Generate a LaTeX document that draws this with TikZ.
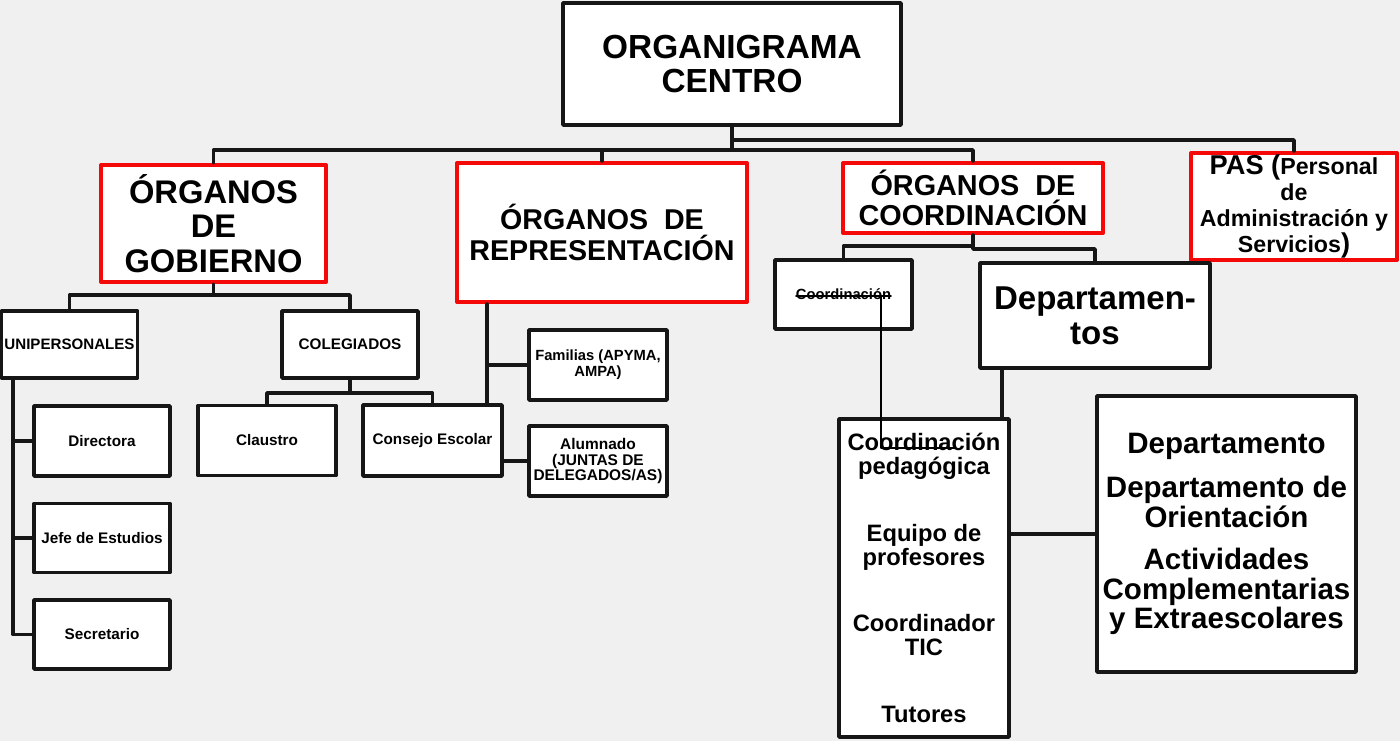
\documentclass[tikz,border=0pt]{standalone}
\usepackage{fontspec}
\setmainfont{Liberation Sans}
\definecolor{bggray}{RGB}{240,240,240}
\definecolor{orgred}{RGB}{245,8,8}
\definecolor{linedark}{RGB}{22,22,22}
\newcommand\fsz[2]{\fontsize{#1}{#2}\selectfont\bfseries}

\begin{document}
\begin{tikzpicture}[x=0.02cm,y=-0.02cm,line cap=round,line join=round,
  box/.style={draw=linedark,line width=2pt,fill=white,inner sep=0pt,align=center},
  redbox/.style={box,draw=orgred,line width=2.3pt},
  sz/.style 2 args={minimum width=#1*0.02cm,minimum height=#2*0.02cm},
  conn/.style={draw=linedark,line width=2pt},
  thinline/.style={draw=black,line width=0.9pt}]
  \useasboundingbox (0,0) rectangle (1400,741);
  \fill[bggray] (0,0) rectangle (1400,741);
  \coordinate (busA) at (0,140);
  \coordinate (busB) at (0,150);
  \coordinate (busC) at (0,295);
  \coordinate (busD) at (0,393);
  \coordinate (busE) at (0,246);
  \coordinate (busF) at (0,249);
  \coordinate (railU) at (13,0);
  \coordinate (railR) at (487,0);
  \coordinate (railD) at (1002,0);
  \coordinate (strikeA) at (796,296);
  \coordinate (strikeB) at (891,296);
  \coordinate (strikeK) at (881,296);
  \coordinate (strikeE) at (955,448);
  \node[box,sz={338}{122},font=\fsz{19}{19.8}] (centro) at (732,64) {ORGANIGRAMA\\CENTRO};
  \node[redbox,sz={225}{117},font=\fsz{18.6}{19.8}] (gob) at (213.5,223.5) {ÓRGANOS\\DE\\GOBIERNO};
  \node[redbox,sz={290}{139},font=\fsz{16.3}{17.6}] (rep) at (602,232.5) {ÓRGANOS~~DE\\REPRESENTACIÓN};
  \node[redbox,sz={260}{70},font=\fsz{16.4}{17}] (coordorg) at (973,198) {ÓRGANOS~~DE\\COORDINACIÓN};
  \node[redbox,sz={206}{107},font=\fsz{13.2}{14.7}] (pas) at (1294,206.5) {{\fsz{15.5}{15.5}PAS (}Personal\\de\\Administración y\\Servicios{\fsz{15.5}{15.5})}};
  \node[box,sz={136}{67},font=\fsz{8.6}{9.6}] (unip) at (69.5,344.5) {UNIPERSONALES};
  \node[box,sz={136}{67},font=\fsz{8.7}{9.6}] (coleg) at (350,344.5) {COLEGIADOS};
  \node[box,sz={136}{70},font=\fsz{8.7}{9.6}] (dir) at (102,441) {Directora};
  \node[box,sz={136}{69},font=\fsz{8.7}{9.6}] (jefe) at (102,538) {Jefe de Estudios};
  \node[box,sz={136}{69},font=\fsz{8.7}{9.6}] (secr) at (102,634.5) {Secretario};
  \node[box,sz={138}{70},font=\fsz{8.7}{9.6}] (claus) at (267,440.5) {Claustro};
  \node[box,sz={139}{71},font=\fsz{8.7}{9.6}] (consejo) at (432.5,440.5) {Consejo Escolar};
  \node[box,sz={138}{70},font=\fsz{8.4}{9}] (fam) at (598,365) {Familias (APYMA,\\AMPA)};
  \node[box,sz={138}{70},font=\fsz{8.8}{8.8}] (alum) at (598,461) {Alumnado\\(JUNTAS DE\\DELEGADOS/AS)};
  \node[box,sz={137}{69},font=\fsz{8.4}{9}] (coordin) at (843.5,294.5) {Coordinación};
  \node[box,sz={230}{105},font=\fsz{18.8}{19.8}] (deptos) at (1095,315.5) {Departamen-\\tos};
  \node[box,sz={170}{318},font=\fsz{13.5}{13.6}] (coordped) at (924,578) {Coordinación\\pedagógica\\[24.4pt]Equipo de\\profesores\\[24.4pt]Coordinador\\TIC\\[24.4pt]Tutores};
  \node[box,sz={259}{276},font=\fsz{16.8}{16.8}] (depto) at (1226.5,534) {Departamento\\[8.5pt]Departamento de\\Orientación\\[7.5pt]Actividades\\Complementarias\\y Extraescolares};
  \draw[conn] (centro.south) -- (centro.south |- busB);
  \draw[conn] (centro.south |- busA) -| (pas.north);
  \draw[conn] (gob.north) |- (coordorg.north |- busB) -- (coordorg.north);
  \draw[conn] (rep.north) -- (rep.north |- busB);
  \draw[conn] (gob.south) -- (gob.south |- busC);
  \draw[conn] (unip.north) |- (coleg.north |- busC) -- (coleg.north);
  \draw[conn] (unip.south -| railU) |- (secr.west);
  \draw[conn] (dir.west -| railU) -- (dir.west);
  \draw[conn] (jefe.west -| railU) -- (jefe.west);
  \draw[conn] (coleg.south) -- (coleg.south |- busD);
  \draw[conn] (claus.north) |- (consejo.north |- busD) -- (consejo.north);
  \draw[conn] (rep.south -| railR) -- (consejo.north -| railR);
  \draw[conn] (fam.west -| railR) -- (fam.west);
  \draw[conn] (consejo.east |- alum.west) -- (alum.west);
  \draw[conn] (coordorg.south) -- (coordorg.south |- busF) -| (deptos.north);
  \draw[conn] (coordorg.south |- busE) -| (coordin.north);
  \draw[conn] (deptos.south -| railD) -- (coordped.north -| railD);
  \draw[conn] (coordped.east |- depto.west) -- (depto.west);
  \draw[thinline] (strikeA) -- (strikeB);
  \draw[thinline] (strikeK) |- (strikeE);
\end{tikzpicture}
\end{document}
